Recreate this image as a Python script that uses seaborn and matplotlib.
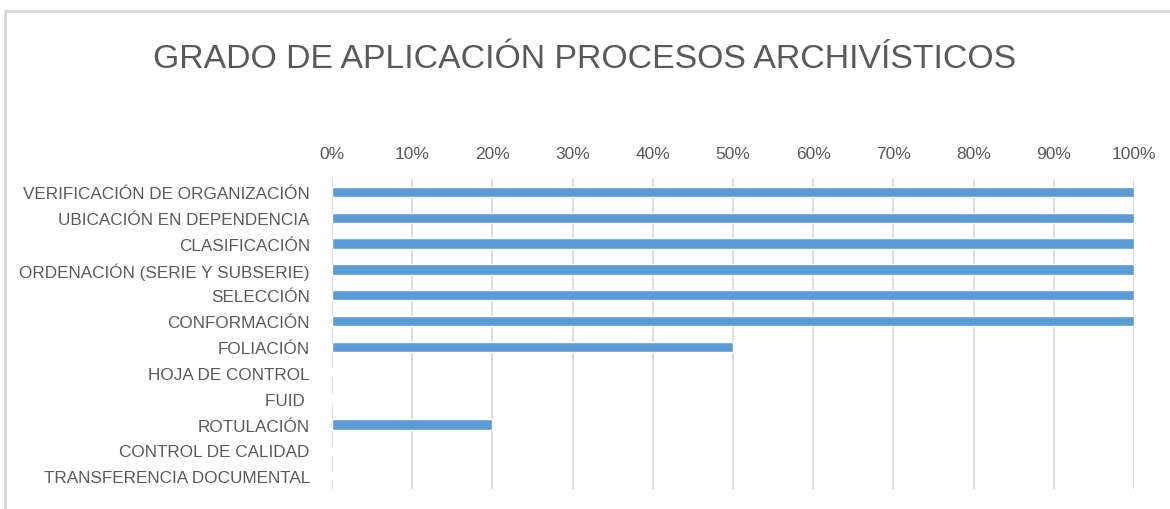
import pandas as pd
import matplotlib.pyplot as plt
import seaborn as sns
from matplotlib.patches import Rectangle
from matplotlib.ticker import PercentFormatter

procesos = [
    "VERIFICACIÓN DE ORGANIZACIÓN",
    "UBICACIÓN EN DEPENDENCIA",
    "CLASIFICACIÓN",
    "ORDENACIÓN (SERIE Y SUBSERIE)",
    "SELECCIÓN",
    "CONFORMACIÓN",
    "FOLIACIÓN",
    "HOJA DE CONTROL",
    "FUID ",
    "ROTULACIÓN",
    "CONTROL DE CALIDAD",
    "TRANSFERENCIA DOCUMENTAL",
]
porcentaje = [1.0, 1.0, 1.0, 1.0, 1.0, 1.0, 0.5, 0.0, 0.0, 0.2, 0.0, 0.0]
ticks = [0, 0.1, 0.2, 0.3, 0.4, 0.5, 0.6, 0.7, 0.8, 0.9, 1.0]

df = pd.DataFrame({"Proceso": procesos, "Grado": porcentaje})

sns.set_style("white")
plt.rcParams["font.family"] = ["Liberation Sans", "DejaVu Sans"]
texto = "#595959"

fig = plt.figure(figsize=(11.7, 5.1), dpi=100)
ax = fig.add_axes([0.2838, 0.039, 0.6854, 0.608])

sns.barplot(data=df, x="Grado", y="Proceso", color="#5B9BD5", width=0.4,
            saturation=1, ax=ax, zorder=3)

ax.set_xlim(0, 1)
ax.set_xticks(ticks)
ax.xaxis.set_major_formatter(PercentFormatter(1.0, decimals=0))
ax.xaxis.tick_top()
ax.tick_params(axis="x", length=0, pad=13, labelsize=12.5, colors=texto)
ax.tick_params(axis="y", length=0, pad=16, labelsize=12.3, colors=texto)
ax.grid(axis="x", color="#D9D9D9", linewidth=1.3, zorder=0)
ax.set_axisbelow(True)
ax.set_xlabel("")
ax.set_ylabel("")
for s in ax.spines.values():
    s.set_visible(False)

fig.text(0.5, 0.884, "GRADO DE APLICACIÓN PROCESOS ARCHIVÍSTICOS",
         ha="center", va="center", fontsize=24.3, color=texto)

fig.patches.append(Rectangle((0.004, -0.1), 1.2, 0.1 + 0.976, transform=fig.transFigure,
                             fill=False, edgecolor="#D9D9D9", linewidth=2))

fig.savefig("out.png", dpi=100)
